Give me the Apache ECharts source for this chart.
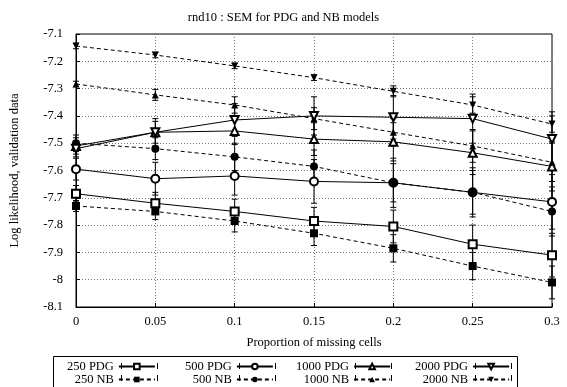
<!DOCTYPE html>
<html>
<head>
<meta charset="utf-8">
<script src="https://cdn.jsdelivr.net/npm/echarts@6/dist/echarts.min.js"></script>
<style>html,body{margin:0;padding:0;background:#fff;}#c{width:567px;height:387px;}</style>
</head>
<body>
<div id="c"></div>
<script>
const xValues = [0, 0.05, 0.1, 0.15, 0.2, 0.25, 0.3];
const seriesNames = ['250 PDG','250 NB','500 PDG','500 NB','1000 PDG','1000 NB','2000 PDG','2000 NB'];
const pdg250 = [-7.685, -7.72, -7.75, -7.785, -7.805, -7.87, -7.91];
const nb250  = [-7.73, -7.75, -7.785, -7.83, -7.885, -7.95, -8.01];
const pdg500 = [-7.595, -7.63, -7.62, -7.64, -7.645, -7.68, -7.715];
const nb500  = [-7.50, -7.52, -7.55, -7.585, -7.645, -7.68, -7.75];
const pdg1000 = [-7.51, -7.46, -7.455, -7.485, -7.495, -7.535, -7.585];
const nb1000  = [-7.283, -7.323, -7.36, -7.41, -7.46, -7.51, -7.57];
const pdg2000 = [-7.52, -7.46, -7.415, -7.40, -7.405, -7.41, -7.485];
const nb2000  = [-7.144, -7.177, -7.217, -7.26, -7.31, -7.36, -7.43];
const err250pdg = [0.03, 0.04, 0.045, 0.05, 0.06, 0.07, 0.08];
const err250nb  = [0.02, 0.03, 0.04, 0.045, 0.05, 0.05, 0.06];
const err500pdg = [0.04, 0.06, 0.07, 0.08, 0.09, 0.09, 0.1];
const err500nb  = [0.03, 0.04, 0.05, 0.06, 0.07, 0.08, 0.09];
const err1000pdg = [0.03, 0.04, 0.05, 0.06, 0.07, 0.08, 0.09];
const err1000nb  = [0.01, 0.02, 0.03, 0.04, 0.05, 0.06, 0.07];
const err2000pdg = [0.03, 0.05, 0.06, 0.07, 0.08, 0.09, 0.1];
const err2000nb  = [0.01, 0.01, 0.01, 0.01, 0.02, 0.03, 0.03];
const yTicks = ['-8.1','-8','-7.9','-7.8','-7.7','-7.6','-7.5','-7.4','-7.3','-7.2','-7.1'];
const xTicks = ['0','0.05','0.1','0.15','0.2','0.25','0.3'];

const FONT = "'Liberation Serif','Times New Roman',serif";
const FS = 12.5;
const values = [pdg250, nb250, pdg500, nb500, pdg1000, nb1000, pdg2000, nb2000];
const errs = [err250pdg, err250nb, err500pdg, err500nb, err1000pdg, err1000nb, err2000pdg, err2000nb];
const symbols = ['emptyRect','rect','emptyCircle','circle','emptyTriangle','triangle','emptyTriangle','triangle'];
const rotates = [0,0,0,0,0,0,180,180];
const sizes = [8,8,8,8,8,7,8,7];

const series = [];
seriesNames.forEach(function(name, i){
  const dashed = i % 2 === 1;
  series.push({
    name: name, type: 'line',
    data: xValues.map(function(x, j){ return [x, values[i][j]]; }),
    symbol: symbols[i], symbolSize: sizes[i], symbolRotate: rotates[i],
    showAllSymbol: true,
    lineStyle: {color: '#000', width: 1, type: dashed ? [4,3] : 'solid'},
    itemStyle: {color: '#000', borderWidth: 1},
    z: 3, animation: false
  });
  series.push({
    name: name + ' err', type: 'custom',
    data: xValues.map(function(x, j){ return [x, values[i][j] - errs[i][j], values[i][j] + errs[i][j]]; }),
    renderItem: function(params, api){
      const lo = api.coord([api.value(0), api.value(1)]);
      const hi = api.coord([api.value(0), api.value(2)]);
      const w = 3;
      return {type: 'group', children: [
        {type: 'line', shape: {x1: lo[0], y1: lo[1], x2: hi[0], y2: hi[1]}, style: {stroke: '#000', lineWidth: 1}},
        {type: 'line', shape: {x1: lo[0]-w, y1: lo[1], x2: lo[0]+w, y2: lo[1]}, style: {stroke: '#000', lineWidth: 1}},
        {type: 'line', shape: {x1: hi[0]-w, y1: hi[1], x2: hi[0]+w, y2: hi[1]}, style: {stroke: '#000', lineWidth: 1}}
      ]};
    },
    encode: {x: 0, y: [1, 2]},
    z: 2, animation: false
  });
});

const legendCols = [[0,1],[2,3],[4,5],[6,7]];
const legendLefts = [67, 185, 296, 415];
const LW = 36;
const legends = legendCols.map(function(col, k){
  return {
    orient: 'vertical', left: legendLefts[k], top: 360,
    data: col.map(function(i){ return seriesNames[i]; }),
    align: 'right', itemWidth: LW, itemHeight: 7, itemGap: 0,
    padding: 0, selectedMode: false,
    textStyle: {fontFamily: FONT, fontSize: FS, color: '#000', lineHeight: 12}
  };
});

// legend end caps (decoration of the legend samples)
const capX = [121, 239, 355, 475];
const capRowsY = [366, 378];
const caps = [];
capX.forEach(function(x){
  capRowsY.forEach(function(y){
    [x, x + LW].forEach(function(cx){
      caps.push({type: 'line', shape: {x1: cx + 0.5, y1: y - 3, x2: cx + 0.5, y2: y + 3}, style: {stroke: '#000', lineWidth: 1}, z: 10});
    });
  });
});

const chart = echarts.init(document.getElementById('c'), null, {renderer: 'canvas'});
chart.setOption({
  backgroundColor: '#fff',
  animation: false,
  title: {text: 'rnd10 : SEM for PDG and NB models', left: 'center', top: 6,
    textStyle: {fontFamily: FONT, fontSize: FS, fontWeight: 'normal', color: '#000'}},
  grid: {left: 76, right: 15, top: 34, bottom: 80, show: true, borderColor: '#000', borderWidth: 1, containLabel: false},
  xAxis: {type: 'value', min: 0, max: 0.3, interval: 0.05,
    name: 'Proportion of missing cells', nameLocation: 'middle', nameGap: 29,
    nameTextStyle: {fontFamily: FONT, fontSize: FS, color: '#000'},
    axisLine: {show: true, lineStyle: {color: '#000'}},
    axisTick: {show: true, inside: true, length: 4, lineStyle: {color: '#000'}},
    axisLabel: {fontFamily: FONT, fontSize: FS, color: '#000', margin: 8,
      formatter: function(v){ const i = Math.round(v / 0.05); return xTicks[i]; }},
    splitLine: {show: true, lineStyle: {color: '#777', type: [1,2], width: 1}}
  },
  yAxis: {type: 'value', min: -8.1, max: -7.1, interval: 0.1,
    name: 'Log likelihood, validation data', nameLocation: 'middle', nameGap: 55,
    nameTextStyle: {fontFamily: FONT, fontSize: FS, color: '#000'},
    axisLine: {show: true, lineStyle: {color: '#000'}},
    axisTick: {show: true, inside: true, length: 4, lineStyle: {color: '#000'}},
    axisLabel: {fontFamily: FONT, fontSize: FS, color: '#000', margin: 13,
      formatter: function(v){ const i = Math.round((v + 8.1) / 0.1); return yTicks[i]; }},
    splitLine: {show: true, lineStyle: {color: '#777', type: [1,2], width: 1}}
  },
  legend: legends,
  graphic: [{type: 'rect', shape: {x: 53.5, y: 356.5, width: 464, height: 40}, style: {fill: 'none', stroke: '#000', lineWidth: 1}, z: 0}].concat(caps),
  series: series
});
</script>
</body>
</html>
